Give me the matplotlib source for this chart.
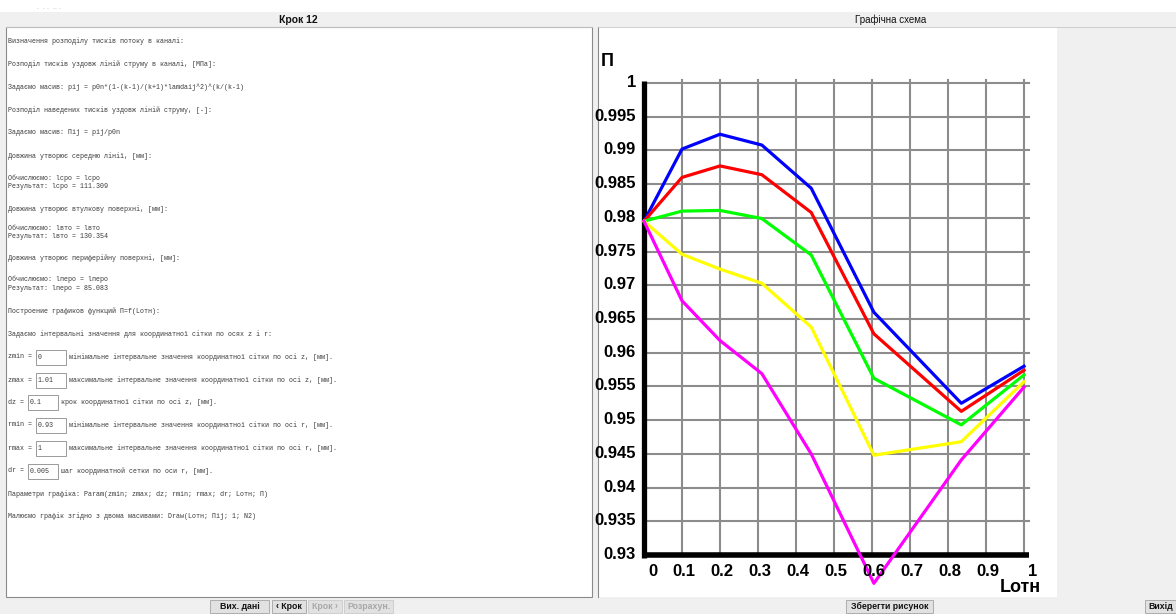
import matplotlib
matplotlib.use("Agg")
import matplotlib.pyplot as plt
from matplotlib.patches import Rectangle
from matplotlib import transforms

W, H = 1176, 614

# ---------------- data ----------------
l_otn = [0.0, 0.1, 0.2, 0.31, 0.44, 0.605, 0.835, 1.0]
pi_blue = [0.9795, 0.9902, 0.9924, 0.9908, 0.9844, 0.9660, 0.9525, 0.9580]
pi_red = [0.9795, 0.9860, 0.9877, 0.9864, 0.9808, 0.9628, 0.9513, 0.9574]
pi_green = [0.9795, 0.9810, 0.9811, 0.9799, 0.9745, 0.9562, 0.9493, 0.9567]
pi_yellow = [0.9795, 0.9746, 0.9724, 0.9703, 0.9638, 0.9448, 0.9468, 0.9557]
pi_magenta = [0.9795, 0.9677, 0.9618, 0.9569, 0.9450, 0.9258, 0.9441, 0.9549]
series = [pi_blue, pi_red, pi_green, pi_yellow, pi_magenta]
series_colors = ["#0000ff", "#ff0000", "#00ff00", "#ffff00", "#ff00ff"]

x_ticks = [0.0, 0.1, 0.2, 0.3, 0.4, 0.5, 0.6, 0.7, 0.8, 0.9, 1.0]
x_tick_labels = ["0", "0.1", "0.2", "0.3", "0.4", "0.5", "0.6", "0.7", "0.8", "0.9", "1"]
y_ticks = [1.0, 0.995, 0.99, 0.985, 0.98, 0.975, 0.97, 0.965, 0.96, 0.955,
           0.95, 0.945, 0.94, 0.935, 0.93]
y_tick_labels = ["1", "0.995", "0.99", "0.985", "0.98", "0.975", "0.97", "0.965",
                 "0.96", "0.955", "0.95", "0.945", "0.94", "0.935", "0.93"]

left_lines = [
    (41, "Визначення розподілу тисків потоку в каналі:"),
    (64, "Розподіл тисків уздовж ліній струму в каналі, [МПа]:"),
    (87, "Задаємо масив: pij = p0n*(1-(k-1)/(k+1)*lamdaij^2)^(k/(k-1)"),
    (110, "Розподіл наведених тисків уздовж ліній струму, [-]:"),
    (133, "Задаємо масив: Пij = pij/p0n"),
    (156, "Довжина утворює середню лінії, [мм]:"),
    (178, "Обчислюємо: lcpo = lcpo"),
    (187, "Результат: lcpo = 111.309"),
    (209, "Довжина утворює втулкову поверхні, [мм]:"),
    (228, "Обчислюємо: lвто = lвто"),
    (237, "Результат: lвто = 130.354"),
    (258, "Довжина утворює периферійну поверхні, [мм]:"),
    (279, "Обчислюємо: lперо = lперо"),
    (288, "Результат: lперо = 85.083"),
    (311, "Построение графиков функций П=f(Lотн):"),
    (334, "Задаємо інтервальні значення для координатної сітки по осях z і r:"),
    (494, "Параметри графіка: Param(zmin; zmax; dz; rmin; rmax; dr; Lотн; П)"),
    (516, "Малюємо графік згідно з двома масивами: Draw(Lотн; Пij; 1; N2)"),
]
input_rows = [
    (357, "zmin = ", "0", "мінімальне інтервальне значення координатної сітки по осі z, [мм]."),
    (380, "zmax = ", "1.01", "максимальне інтервальне значення координатної сітки по осі z, [мм]."),
    (402, "dz = ", "0.1", "крок координатної сітки по осі z, [мм]."),
    (425, "rmin = ", "0.93", "мінімальне інтервальне значення координатної сітки по осі r, [мм]."),
    (448, "rmax = ", "1", "максимальне інтервальне значення координатної сітки по осі r, [мм]."),
    (471, "dr = ", "0.005", "шаг координатной сетки по оси r, [мм]."),
]

# ---------------- figure ----------------
fig = plt.figure(figsize=(W / 100, H / 100), dpi=100)
fig.patch.set_facecolor("#f0f0f0")

ui = fig.add_axes([0, 0, 1, 1], zorder=0)
ui.set_xlim(0, W)
ui.set_ylim(H, 0)
ui.axis("off")

mono = "Liberation Mono"
sans = "Liberation Sans"
CW = 4.0  # px per mono char
txt_c = "#3a3a3a"

# top white strip
ui.add_patch(Rectangle((0, 0), W, 12, fc="white", ec="none"))
ui.text(37, 11, ".  . .  .. .", fontsize=5, color="#b8b8b8", family=sans, va="bottom")

# headers
ui.text(298, 20, "Крок 12", fontsize=7.5, fontweight="bold", family=sans,
        ha="center", va="center", color="#111111")
ui.text(891, 20, "Графічна схема", fontsize=7, family=sans,
        ha="center", va="center", color="#111111")

# left panel
ui.add_patch(Rectangle((6, 27), 586, 570, fc="white", ec="#8a8a8a", lw=0.8))
for y, s in left_lines:
    ui.text(8, y, s, fontsize=4.8, family=mono, va="center", color=txt_c)
for y, lab, val, desc in input_rows:
    ui.text(8, y, lab, fontsize=4.8, family=mono, va="center", color=txt_c)
    bx = 8 + len(lab) * CW
    ui.add_patch(Rectangle((bx, y - 7.5), 30, 15, fc="white", ec="#9a9a9a", lw=0.7))
    ui.text(bx + 2, y + 0.5, val, fontsize=4.8, family=mono, va="center", color=txt_c)
    ui.text(bx + 33, y, desc, fontsize=4.8, family=mono, va="center", color=txt_c)

# right panel
ui.add_patch(Rectangle((597.5, 27), 459.5, 570, fc="white", ec="none"))
ui.plot([597.5, 597.5], [27, 597], color="#8a8a8a", lw=0.8)
ui.plot([597.5, 1176], [27, 27], color="#c8c8c8", lw=0.6)
ui.plot([6, 592], [27, 27], color="#c8c8c8", lw=0.6)

# buttons
def button(x0, x1, label, enabled=True):
    ui.add_patch(Rectangle((x0, 600), x1 - x0, 13, fc="#e1e1e1",
                           ec="#adadad" if enabled else "#cfcfcf", lw=0.7))
    ui.text((x0 + x1) / 2, 606.5, label, fontsize=6.3, fontweight="bold",
            family=sans, ha="center", va="center",
            color="#111111" if enabled else "#a8a8a8")

button(210, 269, "Вих. дані")
button(272, 306, "‹ Крок")
button(308, 342, "Крок ›", enabled=False)
button(344, 393, "Розрахун.", enabled=False)
button(846, 933, "Зберегти рисунок")
button(1145, 1176, "Вихід")

# ---------------- chart ----------------
x0p, x1p, y0p, y1p = 644, 1024, 83, 555
ax = fig.add_axes([x0p / W, 1 - y1p / H, (x1p - x0p) / W, (y1p - y0p) / H], zorder=1)
ax.set_xlim(0, 1)
ax.set_ylim(0.93, 1.0)
ax.axis("off")
ax.patch.set_alpha(0)

grid_c = "#8c8c8c"
for xv in x_ticks[1:]:
    ax.plot([xv, xv], [0.93, 1.0004], color=grid_c, lw=1.5, clip_on=False, zorder=1)
for yv in y_ticks[:-1]:
    ax.plot([0, 1.013], [yv, yv], color=grid_c, lw=1.5, clip_on=False, zorder=1)
ax.plot([0, 0], [0.9295, 1.0003], color="black", lw=3.8, clip_on=False,
        zorder=2, solid_capstyle="butt")
ax.plot([-0.005, 1.013], [0.93, 0.93], color="black", lw=4.0, clip_on=False,
        zorder=2, solid_capstyle="butt")

for vals, c in zip(series, series_colors):
    ax.plot(l_otn, vals, color=c, lw=2.3, clip_on=False, zorder=3,
            solid_joinstyle="round")

tick_font = dict(fontsize=12, fontweight="bold", family=sans, color="black")
for yv, lab in zip(y_ticks, y_tick_labels):
    tr = transforms.offset_copy(ax.transData, fig=fig, x=-8, y=0.5, units="dots")
    ax.text(0, yv, lab, transform=tr, ha="right", va="center", clip_on=False, **tick_font)
for xv, lab in zip(x_ticks, x_tick_labels):
    dx = 9 if lab in ("0", "1") else 2
    tr = transforms.offset_copy(ax.transData, fig=fig, x=dx, y=-16, units="dots")
    ax.text(xv, 0.93, lab, transform=tr, ha="center", va="center", clip_on=False, **tick_font)

ax.text(1.0, 0.93, "Lотн", transform=transforms.offset_copy(
    ax.transData, fig=fig, x=-4, y=-33, units="dots"),
    ha="center", va="center", fontsize=13, fontweight="bold", family=sans,
    clip_on=False)
ax.text(0.0, 1.0, "П", transform=transforms.offset_copy(
    ax.transData, fig=fig, x=-37, y=22, units="dots"),
    ha="center", va="center", fontsize=13, fontweight="bold", family=sans,
    clip_on=False)

fig.savefig("out.png", dpi=100, facecolor=fig.get_facecolor())
